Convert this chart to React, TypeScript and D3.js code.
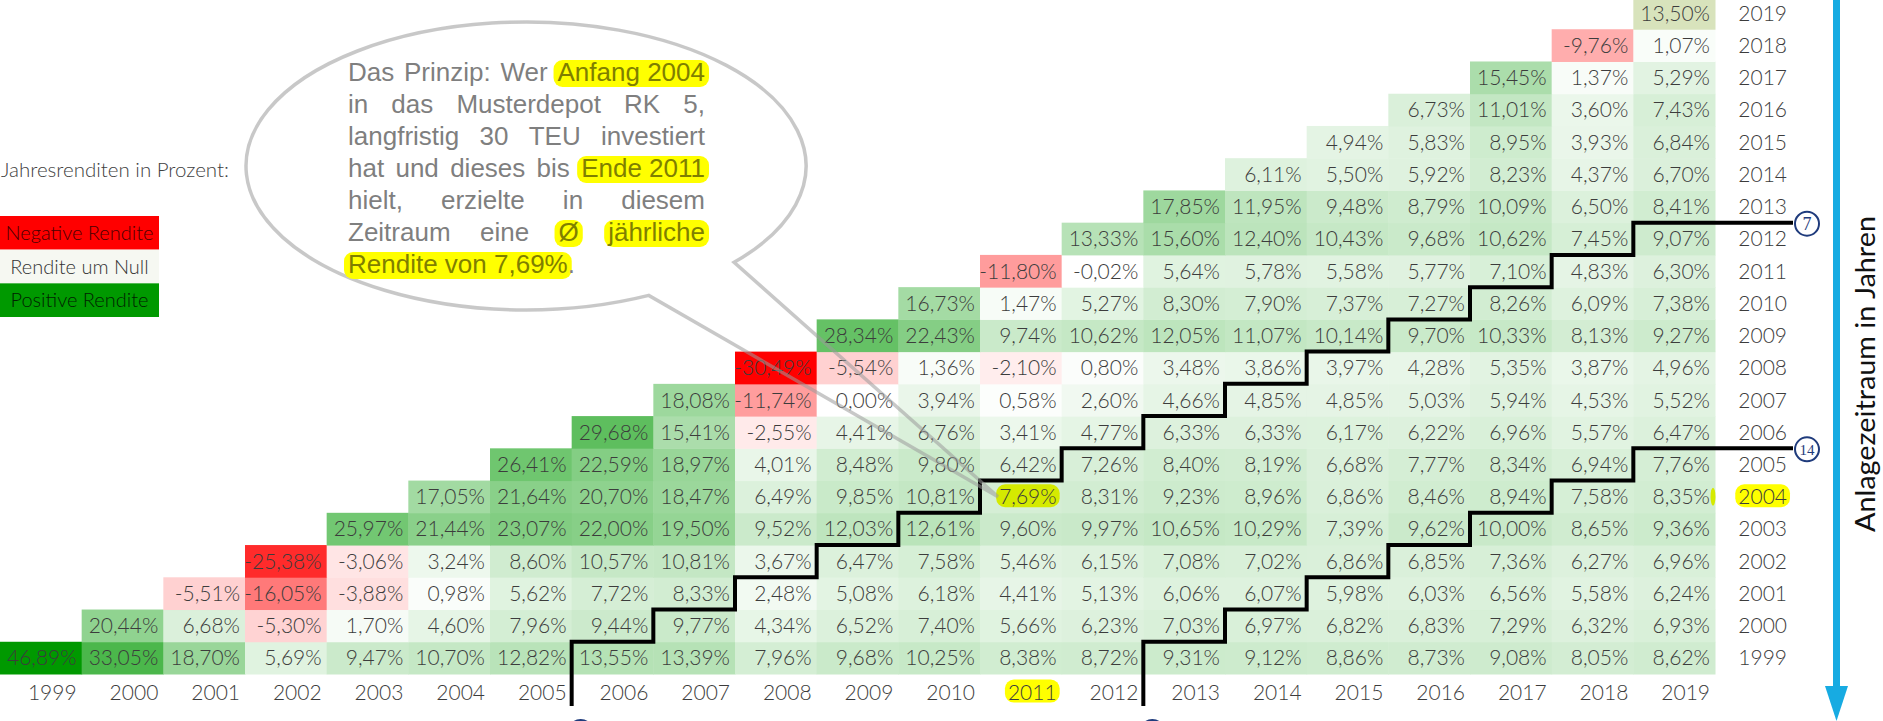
import * as d3 from "d3";
import { useEffect, useRef } from "react";

const W = 1883;
const H = 721;

// Jahre (Anlagebeginn = Zeile, Anlageende = Spalte)
const years = [
  1999, 2000, 2001, 2002, 2003, 2004, 2005, 2006, 2007, 2008, 2009, 2010, 2011,
  2012, 2013, 2014, 2015, 2016, 2017, 2018, 2019,
];

// Ø jährliche Rendite in %, je Startjahr, Werte für Endjahr = Startjahr .. 2019
const r1999 = [46.89, 33.05, 18.7, 5.69, 9.47, 10.7, 12.82, 13.55, 13.39, 7.96, 9.68, 10.25, 8.38, 8.72, 9.31, 9.12, 8.86, 8.73, 9.08, 8.05, 8.62];
const r2000 = [20.44, 6.68, -5.3, 1.7, 4.6, 7.96, 9.44, 9.77, 4.34, 6.52, 7.4, 5.66, 6.23, 7.03, 6.97, 6.82, 6.83, 7.29, 6.32, 6.93];
const r2001 = [-5.51, -16.05, -3.88, 0.98, 5.62, 7.72, 8.33, 2.48, 5.08, 6.18, 4.41, 5.13, 6.06, 6.07, 5.98, 6.03, 6.56, 5.58, 6.24];
const r2002 = [-25.38, -3.06, 3.24, 8.6, 10.57, 10.81, 3.67, 6.47, 7.58, 5.46, 6.15, 7.08, 7.02, 6.86, 6.85, 7.36, 6.27, 6.96];
const r2003 = [25.97, 21.44, 23.07, 22.0, 19.5, 9.52, 12.03, 12.61, 9.6, 9.97, 10.65, 10.29, 7.39, 9.62, 10.0, 8.65, 9.36];
const r2004 = [17.05, 21.64, 20.7, 18.47, 6.49, 9.85, 10.81, 7.69, 8.31, 9.23, 8.96, 6.86, 8.46, 8.94, 7.58, 8.35];
const r2005 = [26.41, 22.59, 18.97, 4.01, 8.48, 9.8, 6.42, 7.26, 8.4, 8.19, 6.68, 7.77, 8.34, 6.94, 7.76];
const r2006 = [29.68, 15.41, -2.55, 4.41, 6.76, 3.41, 4.77, 6.33, 6.33, 6.17, 6.22, 6.96, 5.57, 6.47];
const r2007 = [18.08, -11.74, 0.0, 3.94, 0.58, 2.6, 4.66, 4.85, 4.85, 5.03, 5.94, 4.53, 5.52];
const r2008 = [-30.49, -5.54, 1.36, -2.1, 0.8, 3.48, 3.86, 3.97, 4.28, 5.35, 3.87, 4.96];
const r2009 = [28.34, 22.43, 9.74, 10.62, 12.05, 11.07, 10.14, 9.7, 10.33, 8.13, 9.27];
const r2010 = [16.73, 1.47, 5.27, 8.3, 7.9, 7.37, 7.27, 8.26, 6.09, 7.38];
const r2011 = [-11.8, -0.02, 5.64, 5.78, 5.58, 5.77, 7.1, 4.83, 6.3];
const r2012 = [13.33, 15.6, 12.4, 10.43, 9.68, 10.62, 7.45, 9.07];
const r2013 = [17.85, 11.95, 9.48, 8.79, 10.09, 6.5, 8.41];
const r2014 = [6.11, 5.5, 5.92, 8.23, 4.37, 6.7];
const r2015 = [4.94, 5.83, 8.95, 3.93, 6.84];
const r2016 = [6.73, 11.01, 3.6, 7.43];
const r2017 = [15.45, 1.37, 5.29];
const r2018 = [-9.76, 1.07];
const r2019 = [13.5];

const rowValues = [
  r1999, r2000, r2001, r2002, r2003, r2004, r2005, r2006, r2007, r2008, r2009,
  r2010, r2011, r2012, r2013, r2014, r2015, r2016, r2017, r2018, r2019,
];

const legendTitle = "Jahresrenditen in Prozent:";
const legendItems = ["Negative Rendite", "Rendite um Null", "Positive Rendite"];
const stepPeriods = [7, 14];
const focusStart = 2004;
const focusEnd = 2011;
const axisTitle = "Anlagezeitraum in Jahren";

// Sprechblase, [..] = gelb markiert
const bubbleText = [
  "Das Prinzip: Wer [Anfang 2004]",
  "in das Musterdepot RK 5,",
  "langfristig 30 TEU investiert",
  "hat und dieses bis [Ende 2011]",
  "hielt, erzielte in diesem",
  "Zeitraum eine [Ø] [jährliche]",
  "[Rendite von 7,69%].",
];

const de = d3.formatLocale({
  decimal: ",",
  thousands: ".",
  grouping: [3],
  currency: ["", " €"],
  minus: "-",
});
const fmt = de.format(".2f");

export default function App() {
  const svgRef = useRef<SVGSVGElement>(null);

  useEffect(() => {
    if (!svgRef.current) return;
    const svg = d3.select(svgRef.current);
    svg.selectAll("*").remove();

    const cfg = {
      font: "Lato, 'Open Sans', sans-serif",
      textColor: "#3c3c3c",
      red: "#ff0000",
      white: "#ffffff",
      green: "#009900",
      latestFill: "#d8e3bc",
      yellow: "#ffff00",
      cellYellow: "#d5ea00",
      blue: "#17abe2",
      navy: "#1f3b7c",
    };

    // --- 1. Skalen ---
    const x = d3.scaleBand<number>().domain(years).range([0, 1715]);
    const y = d3
      .scaleBand<number>()
      .domain([...years].reverse())
      .range([-3, 674]);
    const xr = (yr: number) => (x(yr) as number) + x.bandwidth();
    const bw = y.bandwidth();

    const cells = rowValues.flatMap((vals, i) =>
      vals.map((v, j) => ({ start: years[i], end: years[i + j], v }))
    );
    const color = d3
      .scaleLinear<string>()
      .domain([d3.min(cells, (d) => d.v)!, 0, d3.max(cells, (d) => d.v)!])
      .range([cfg.red, cfg.white, cfg.green]);

    const root = svg.append("g").style("font-family", cfg.font);

    // --- 2. Zellen ---
    root
      .append("g")
      .selectAll("rect")
      .data(cells)
      .join("rect")
      .attr("x", (d) => x(d.end)!)
      .attr("y", (d) => y(d.start)!)
      .attr("width", x.bandwidth() + 0.5)
      .attr("height", bw + 0.5)
      .attr("fill", (d) =>
        d.start === d.end && d.end === years[years.length - 1]
          ? cfg.latestFill
          : color(d.v)
      );

    const hlLayer = root.append("g");

    const cellText = root
      .append("g")
      .attr("font-size", 21)
      .attr("font-weight", 300)
      .attr("fill", cfg.textColor)
      .attr("text-anchor", "end")
      .selectAll("text")
      .data(cells)
      .join("text")
      .attr("x", (d) => xr(d.end) - 5)
      .attr("y", (d) => y(d.start)! + bw / 2)
      .attr("dy", "0.36em")
      .text((d) => fmt(d.v) + "%");

    // --- 3. Achsenbeschriftungen ---
    const xLabels = root
      .append("g")
      .attr("font-size", 21)
      .attr("font-weight", 300)
      .attr("fill", cfg.textColor)
      .attr("text-anchor", "end")
      .selectAll("text")
      .data(years)
      .join("text")
      .attr("x", (d) => xr(d) - 5)
      .attr("y", 692)
      .attr("dy", "0.36em")
      .text((d) => d);

    const yLabels = root
      .append("g")
      .attr("font-size", 21)
      .attr("font-weight", 300)
      .attr("fill", cfg.textColor)
      .attr("text-anchor", "end")
      .selectAll("text")
      .data(years)
      .join("text")
      .attr("x", 1787)
      .attr("y", (d) => y(d)! + bw / 2)
      .attr("dy", "0.36em")
      .text((d) => d);

    // gelbe Markierungen hinter Texten
    const pill = (node: SVGTextElement, fill: string) => {
      const b = node.getBBox();
      hlLayer
        .append("rect")
        .attr("x", b.x - 3)
        .attr("y", b.y + 1)
        .attr("width", b.width + 6)
        .attr("height", b.height - 2)
        .attr("rx", 9)
        .attr("fill", fill);
    };
    xLabels.filter((d) => d === focusEnd).each(function () {
      pill(this as SVGTextElement, cfg.yellow);
    });
    yLabels.filter((d) => d === focusStart).each(function () {
      pill(this as SVGTextElement, cfg.yellow);
    });
    cellText
      .filter((d) => d.start === focusStart && d.end === focusEnd)
      .each(function () {
        pill(this as SVGTextElement, cfg.cellYellow);
      });
    // kleiner Rest einer Markierung am Zeilenende 2004
    hlLayer
      .append("ellipse")
      .attr("cx", xr(years[years.length - 1]) - 2)
      .attr("cy", y(focusStart)! + bw / 2)
      .attr("rx", 2.5)
      .attr("ry", 9)
      .attr("fill", cfg.cellYellow);

    // --- 4. Treppenlinien 7 / 14 Jahre ---
    const last = years[years.length - 1];
    const line = d3.line();
    stepPeriods.forEach((k) => {
      const sLast = last - k;
      const pts: [number, number][] = [[xr(years[0] + k - 1), 706]];
      for (let s = years[0]; s <= sLast; s++) {
        pts.push([xr(s + k - 1), y(s)!]);
        pts.push([s < sLast ? xr(s + k) : 1793, y(s)!]);
      }
      root
        .append("path")
        .attr("d", line(pts))
        .attr("fill", "none")
        .attr("stroke", "#000")
        .attr("stroke-width", 4)
        .attr("stroke-linejoin", "miter");

      // Kreis rechts mit Zahl
      const g = root.append("g").attr("transform", `translate(1807,${y(sLast)! + 1})`);
      g.append("circle")
        .attr("r", 12)
        .attr("fill", "#fff")
        .attr("stroke", cfg.navy)
        .attr("stroke-width", 2);
      g.append("text")
        .attr("text-anchor", "middle")
        .attr("dy", "0.36em")
        .attr("font-family", "'Liberation Serif', serif")
        .attr("font-size", k > 9 ? 15 : 18)
        .attr("fill", cfg.navy)
        .text(k);

      // Kreis unten (vom Rand abgeschnitten)
      root
        .append("circle")
        .attr("cx", xr(years[0] + k - 1) + 9)
        .attr("cy", 732)
        .attr("r", 12)
        .attr("fill", "#fff")
        .attr("stroke", cfg.navy)
        .attr("stroke-width", 2);
    });

    // --- 5. Legende ---
    root
      .append("text")
      .attr("x", 1)
      .attr("y", 170)
      .attr("dy", "0.36em")
      .attr("font-size", 20.5)
      .attr("font-weight", 300)
      .attr("fill", "#404040")
      .text(legendTitle);

    const legendFill = [cfg.red, "#f6f8f2", cfg.green];
    const legendInk = ["#4a0000", "#333333", "#002200"];
    const ly = d3.scaleBand<string>().domain(legendItems).range([216, 317]);
    const lg = root
      .append("g")
      .selectAll("g")
      .data(legendItems)
      .join("g")
      .attr("transform", (d) => `translate(0,${ly(d)})`);
    lg.append("rect")
      .attr("width", 159)
      .attr("height", ly.bandwidth())
      .attr("fill", (_, i) => legendFill[i]);
    lg.append("text")
      .attr("x", 79.5)
      .attr("y", ly.bandwidth() / 2)
      .attr("dy", "0.36em")
      .attr("text-anchor", "middle")
      .attr("font-size", 20)
      .attr("font-weight", 300)
      .attr("fill", (_, i) => legendInk[i])
      .text((d) => d);

    // --- 6. Sprechblase ---
    const ecx = 526,
      ecy = 166,
      erx = 280,
      ery = 144;
    const pa = (deg: number) => [
      ecx + erx * Math.cos((deg * Math.PI) / 180),
      ecy + ery * Math.sin((deg * Math.PI) / 180),
    ];
    const [ax, ay] = pa(42);
    const [bx, by] = pa(64);
    const tipX = x(focusEnd)! + 18;
    const tipY = y(focusStart)! + bw / 2;
    root
      .append("path")
      .attr(
        "d",
        `M${bx},${by} A${erx},${ery} 0 1 1 ${ax},${ay} L${tipX},${tipY} Z`
      )
      .attr("fill", "none")
      .attr("stroke", "#9a9a9a")
      .attr("stroke-opacity", 0.55)
      .attr("stroke-width", 3.5)
      .attr("stroke-linejoin", "miter");

    const bubble = root
      .append("g")
      .style("font-family", "'Liberation Sans', Arial, sans-serif")
      .attr("font-size", 26);
    const bHl = bubble.append("g");
    const bTx = bubble.append("g");
    const left = 348,
      right = 705;
    bubbleText.forEach((ln, li) => {
      const base = 81 + li * 32;
      const tokens = ln.match(/\[[^\]]+\]|[^\s\[]+/g) || [];
      const nodes = tokens.map((t) => {
        const hl = t.startsWith("[");
        const node = bTx
          .append("text")
          .attr("y", base)
          .attr("fill", hl ? "#7f7f00" : "#7f7f7f")
          .text(hl ? t.slice(1, -1) : t);
        return { node, hl, w: (node.node() as SVGTextElement).getComputedTextLength() };
      });
      const total = d3.sum(nodes, (n) => n.w);
      const justify = li < bubbleText.length - 1;
      const gap = justify && nodes.length > 1 ? (right - left - total) / (nodes.length - 1) : 0;
      let cx = left;
      nodes.forEach((n) => {
        n.node.attr("x", cx);
        if (n.hl) {
          bHl
            .append("rect")
            .attr("x", cx - 4)
            .attr("y", base - 21)
            .attr("width", n.w + 8)
            .attr("height", 27)
            .attr("rx", 9)
            .attr("fill", cfg.yellow);
        }
        cx += n.w + gap;
      });
    });

    // --- 7. Pfeil rechts ---
    root
      .append("line")
      .attr("x1", 1836.5)
      .attr("x2", 1836.5)
      .attr("y1", 0)
      .attr("y2", 690)
      .attr("stroke", cfg.blue)
      .attr("stroke-width", 7);
    root
      .append("path")
      .attr("d", "M1825,686 L1848,686 L1836.5,721 Z")
      .attr("fill", cfg.blue);
    root
      .append("text")
      .attr("transform", "translate(1875,374) rotate(-90)")
      .attr("text-anchor", "middle")
      .attr("font-size", 27)
      .attr("textLength", 316)
      .attr("lengthAdjust", "spacingAndGlyphs")
      .attr("fill", "#111")
      .text(axisTitle);
  }, []);

  return (
    <svg
      ref={svgRef}
      width={W}
      height={H}
      style={{ position: "absolute", left: 0, top: 0, display: "block", background: "#fff" }}
    />
  );
}
